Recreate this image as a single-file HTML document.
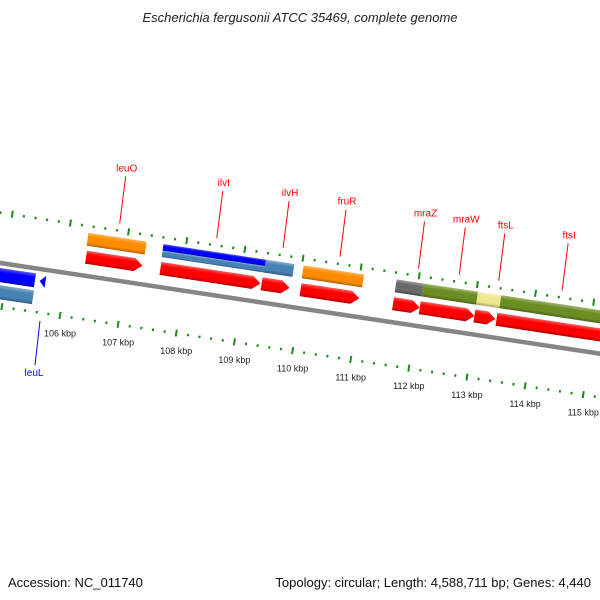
<!DOCTYPE html>
<html><head><meta charset="utf-8"><style>
html,body{margin:0;padding:0;background:#fff}
svg{display:block;font-family:"Liberation Sans","DejaVu Sans",sans-serif}
</style></head><body>
<svg id="chart" width="600" height="600" viewBox="0 0 600 600">
<defs>
<linearGradient id="shade" x1="0" y1="0" x2="0" y2="1">
<stop offset="0" stop-color="#fff" stop-opacity="0.35"/>
<stop offset="0.3" stop-color="#fff" stop-opacity="0"/>
<stop offset="0.75" stop-color="#000" stop-opacity="0"/>
<stop offset="1" stop-color="#000" stop-opacity="0.3"/>
</linearGradient>
</defs>
<text x="300" y="22" text-anchor="middle" font-size="13" font-style="italic" fill="#222">Escherichia fergusonii ATCC 35469, complete genome</text>
<g id="map" transform="translate(60,272) rotate(8.6)"></g>
<g id="labels"></g>
<text x="8" y="587" font-size="13" fill="#111">Accession: NC_011740</text>
<text x="591" y="587" font-size="13" fill="#111" text-anchor="end">Topology: circular; Length: 4,588,711 bp; Genes: 4,440</text>
</svg>
<script>
// feature data (kbp)
const featStart = [104.0,105.61,105.68,106.38,106.40,107.67,107.67,109.43,107.68,109.42,110.08,110.09,111.68,112.14,113.08,113.48,111.68,112.14,113.08,113.46];
const featEnd   = [105.60,104.0,105.78,107.38,107.37,109.43,109.92,109.92,109.40,109.90,111.12,111.10,112.14,113.08,113.48,116.5,112.14,113.08,113.44,116.5];
const featRow   = ['leuLb','leuLs','tri','top','red','topB','topS','topFull','red','red','top','red','top','top','top','top','red','red','red','red'];
const featColor = ['#0000ff','#4682b4','#0000ff','#ff8c00','#ff0000','#0000ff','#4682b4','#4682b4','#ff0000','#ff0000','#ff8c00','#ff0000','#696969','#6b8e23','#f0e68c','#6b8e23','#ff0000','#ff0000','#ff0000','#ff0000'];
const tickStartKbp = 104;
const tickEndKbp = 117;
const tickLabels = ['106 kbp','107 kbp','108 kbp','109 kbp','110 kbp','111 kbp','112 kbp','113 kbp','114 kbp','115 kbp'];
const tickLabelKbp = [106,107,108,109,110,111,112,113,114,115];
const geneNames = ['leuO','ilvI','ilvH','fruR','mraZ','mraW','ftsL','ftsI'];
const geneKbp = [106.88,108.55,109.69,110.67,112.02,112.72,113.4,114.49];

const NS='http://www.w3.org/2000/svg';
const S=58.8, ANG=8.6*Math.PI/180, OX=60, OY=272;
const u = k => (k-106)*S;
function scr(k,v){const x=u(k),c=Math.cos(ANG),s=Math.sin(ANG);return [OX+x*c-v*s, OY+x*s+v*c];}
const map=document.getElementById('map'), labels=document.getElementById('labels');
function mk(tag,attrs,parent){const e=document.createElementNS(NS,tag);for(const k in attrs)e.setAttribute(k,attrs[k]);parent.appendChild(e);return e;}
const rows={red:[-25,13],top:[-43,13],topB:[-43,6.5],topS:[-36.5,6.5],topFull:[-43,13],leuLb:[5,14],leuLs:[22,14],tri:[5,14]};

const bb=mk('line',{x1:u(103),y1:0,x2:u(117),y2:0,stroke:'#858585','stroke-width':4.5},map);



for(let i=0;i<featStart.length;i++){
  const r=rows[featRow[i]], a=u(Math.min(featStart[i],featEnd[i])), b=u(Math.max(featStart[i],featEnd[i]));
  let el;
  if(featRow[i]==='red'){
    const h=Math.min(8,b-a);
    el=mk('path',{d:`M${a},${r[0]}H${b-h}L${b},${r[0]+r[1]/2}L${b-h},${r[0]+r[1]}H${a}Z`,fill:featColor[i]},map);
    const sh=mk('path',{d:`M${a},${r[0]}H${b-h}L${b},${r[0]+r[1]/2}L${b-h},${r[0]+r[1]}H${a}Z`,fill:'url(#shade)'},map);
    
    
  } else if(featRow[i]==='tri'){
    el=mk('path',{d:`M${a},${r[0]+r[1]/2}L${b},${r[0]+1}V${r[0]+r[1]-1}Z`,fill:featColor[i]},map);
  } else {
    el=mk('rect',{x:a,y:r[0],width:b-a,height:r[1],fill:featColor[i]},map);
    const sh=mk('rect',{x:a,y:r[0],width:b-a,height:r[1],fill:'url(#shade)'},map);
    
    
  }
  
  
}

for(let k=tickStartKbp;k<=tickEndKbp+0.001;k+=0.2){
  const kk=Math.round(k*10)/10, major=Math.abs(kk-Math.round(kk))<0.01;
  [[-50,3/S],[43,6.5/S]].forEach(([v,sh])=>{
    const x=u(kk+sh);
    const t=mk('rect',major?{x:x-1,y:v-3.5,width:2,height:7,fill:'#1a8a1a'}:{x:x-1,y:v-1,width:2,height:2.5,fill:'#1a8a1a'},map);
    
    
  });
}
for(let i=0;i<tickLabels.length;i++){
  const p=scr(tickLabelKbp[i]+6.5/S,43);
  const t=mk('text',{x:p[0],y:p[1]+21,'font-size':9,'text-anchor':'middle',fill:'#222'},labels);
  t.textContent=tickLabels[i];
  
  
}
for(let i=0;i<geneNames.length;i++){
  const p=scr(geneKbp[i],-57);
  const l=mk('line',{x1:p[0],y1:p[1],x2:p[0]+6,y2:p[1]-47,stroke:'#f00','stroke-width':1},labels);
  
  
  const t=mk('text',{x:p[0]+7,y:p[1]-52,'font-size':10,'text-anchor':'middle',fill:'#f00'},labels);
  t.textContent=geneNames[i];
  
  
}
const ll=mk('line',{x1:40,y1:321,x2:35,y2:365,stroke:'#00f','stroke-width':1},labels);


const lt=mk('text',{x:34,y:376,'font-size':10,'text-anchor':'middle',fill:'#00f'},labels);
lt.textContent='leuL';


</script>
</body></html>
